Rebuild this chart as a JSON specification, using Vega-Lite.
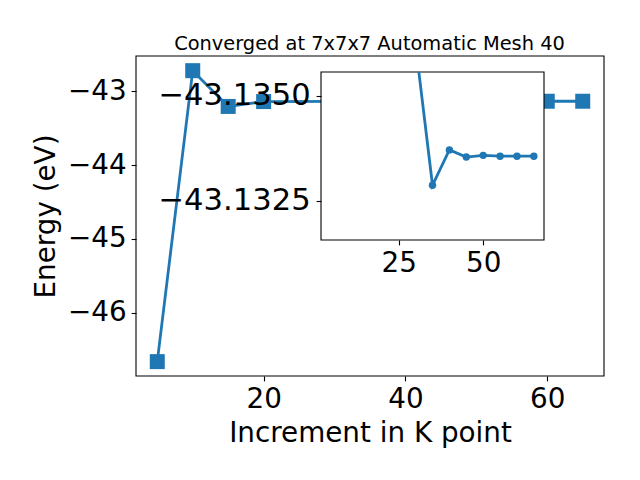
{
  "$schema": "https://vega.github.io/schema/vega-lite/v6.json",
  "autosize": {"type": "none"},
  "width": 223,
  "height": 168,
  "padding": {"left": 321, "top": 72, "right": 96, "bottom": 240},
  "background": "white",
  "config": {
    "view": {"stroke": null},
    "font": "DejaVu Sans",
    "axis": {
      "domain": false,
      "grid": false,
      "tickColor": "black",
      "tickWidth": 1.1,
      "tickSize": 4.9,
      "labelPadding": 4.9,
      "labelFontSize": 27.8,
      "labelColor": "black",
      "labelFont": "DejaVu Sans",
      "titleFont": "DejaVu Sans",
      "titleFontSize": 27.8,
      "titleFontWeight": "normal",
      "titleColor": "black",
      "labelFlush": false,
      "labelOverlap": false
    }
  },
  "title": {
    "text": "Converged at 7x7x7 Automatic Mesh 40",
    "fontSize": 19.4,
    "font": "DejaVu Sans",
    "fontWeight": "normal",
    "color": "black",
    "frame": "group",
    "anchor": "middle",
    "dx": -63,
    "offset": -14,
    "baseline": "alphabetic"
  },
  "data": {
    "values": [
      {"k": 5, "energy": -46.665},
      {"k": 10, "energy": -42.719},
      {"k": 15, "energy": -43.204},
      {"k": 20, "energy": -43.138},
      {"k": 30, "energy": -43.1362},
      {"k": 35, "energy": -43.13287},
      {"k": 40, "energy": -43.13371},
      {"k": 45, "energy": -43.13354},
      {"k": 50, "energy": -43.13358},
      {"k": 55, "energy": -43.13356},
      {"k": 60, "energy": -43.13356},
      {"k": 65, "energy": -43.13356}
    ]
  },
  "layer": [
    {
      "layer": [
        {
          "mark": {"type": "line", "color": "#1f77b4", "strokeWidth": 2.8},
          "encoding": {
            "x": {
              "field": "k", "type": "quantitative",
              "scale": {"domain": [2, 68], "range": [-185, 283], "nice": false, "zero": false},
              "axis": {"orient": "bottom", "offset": 136, "values": [20, 40, 60], "format": "d", "title": "Increment in K point", "titlePadding": 6, "zindex": 1}
            },
            "y": {
              "field": "energy", "type": "quantitative",
              "scale": {"domain": [-46.86, -42.52], "range": [304, -16], "nice": false, "zero": false},
              "axis": {"orient": "left", "offset": 185, "values": [-46, -45, -44, -43], "format": "d", "title": "Energy (eV)", "titlePadding": 7, "zindex": 1}
            }
          }
        },
        {
          "mark": {"type": "point", "shape": "square", "filled": true, "size": 225, "color": "#1f77b4", "opacity": 1},
          "encoding": {
            "x": {"field": "k", "type": "quantitative"},
            "y": {"field": "energy", "type": "quantitative"}
          }
        },
        {
          "data": {"values": [{}]},
          "mark": {"type": "rect", "fillOpacity": 0, "stroke": "black", "strokeWidth": 1.1},
          "encoding": {
            "x": {"datum": 2, "type": "quantitative"},
            "x2": {"datum": 68},
            "y": {"datum": -46.86, "type": "quantitative"},
            "y2": {"datum": -42.52}
          }
        }
      ]
    },
    {
      "transform": [{"filter": "datum.k >= 30"}],
      "layer": [
        {
          "data": {"values": [{}]},
          "mark": {"type": "rect", "fill": "white", "stroke": "black", "strokeWidth": 1.1},
          "encoding": {
            "x": {"datum": 2, "type": "quantitative", "scale": {"domain": [2, 68], "nice": false, "zero": false}, "axis": {"orient": "bottom", "offset": 0, "values": [25, 50], "format": "d", "title": null, "zindex": 1}},
            "x2": {"datum": 68},
            "y": {"datum": -43.13556, "type": "quantitative", "scale": {"domain": [-43.13556, -43.13157], "reverse": true, "nice": false, "zero": false}, "axis": {"orient": "left", "offset": 0, "values": [-43.135, -43.1325], "format": ".4f", "title": null, "zindex": 1, "labelFontSize": 30.6, "labelPadding": 6}},
            "y2": {"datum": -43.13157}
          }
        },
        {
          "mark": {"type": "line", "color": "#1f77b4", "strokeWidth": 2.8, "clip": true},
          "encoding": {
            "x": {"field": "k", "type": "quantitative", "title": null},
            "y": {"field": "energy", "type": "quantitative", "title": null}
          }
        },
        {
          "mark": {"type": "point", "shape": "circle", "filled": true, "size": 55, "color": "#1f77b4", "opacity": 1, "clip": true},
          "encoding": {
            "x": {"field": "k", "type": "quantitative", "title": null},
            "y": {"field": "energy", "type": "quantitative", "title": null}
          }
        }
      ]
    }
  ],
  "resolve": {"scale": {"x": "independent", "y": "independent"}}
}
